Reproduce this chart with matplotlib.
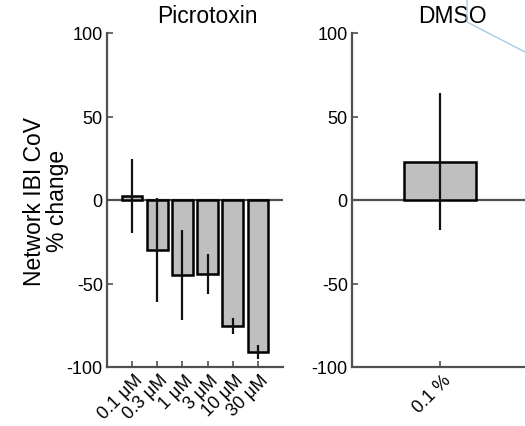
import matplotlib
matplotlib.use("Agg")
import matplotlib.pyplot as plt
import matplotlib.transforms as mtransforms
from matplotlib.lines import Line2D

plt.rcParams['font.family'] = ['Liberation Sans', 'DejaVu Sans']

# Data
picro_labels = ["0.1 μM", "0.3 μM", "1 μM", "3 μM", "10 μM", "30 μM"]
picro_means = [2.5, -30, -45, -44.5, -75.5, -91]
picro_errs = [22, 31, 27, 12, 5, 4]

dmso_labels = ["0.1 %"]
dmso_means = [23]
dmso_errs = [41]

yticks = [-100, -50, 0, 50, 100]

W, H = 525, 427
fig = plt.figure(figsize=(W / 100, H / 100), dpi=100)

spine_col = "#505050"
bar_face = "#bfbfbf"

def style_axes(ax, xlim, positions, labels, title):
    ax.set_xlim(*xlim)
    ax.set_ylim(-100, 100)
    ax.set_yticks(yticks)
    ax.set_yticklabels([str(t) for t in yticks], fontsize=13)
    ax.set_xticks(positions)
    ax.set_xticklabels([])
    trans = mtransforms.blended_transform_factory(ax.transData, ax.transAxes)
    offset = mtransforms.ScaledTranslation(14 / 100, -4 / 100, fig.dpi_scale_trans)
    for p, lab in zip(positions, labels):
        ax.text(p, 0, lab, transform=trans + offset, rotation=45,
                ha='right', va='top', fontsize=13)
    for s in ['top', 'right']:
        ax.spines[s].set_visible(False)
    for s in ['left', 'bottom']:
        ax.spines[s].set_color(spine_col)
        ax.spines[s].set_linewidth(1.6)
    ax.tick_params(direction='in', length=4, width=1.2, color=spine_col, pad=3)
    ax.axhline(0, color=spine_col, lw=1.6, zorder=1)
    ax.set_title(title, fontsize=16.5, x=0.57, pad=8)

# Left axes: Picrotoxin
ax1 = fig.add_axes([107 / W, 1 - 368 / H, 176 / W, 334 / H])
x1 = list(range(1, len(picro_means) + 1))
ax1.bar(x1, picro_means, width=0.82, color=bar_face, edgecolor='black', linewidth=1.8, zorder=2)
ax1.errorbar(x1, picro_means, yerr=picro_errs, fmt='none', ecolor='#111111', elinewidth=1.6, capsize=0, zorder=3)
style_axes(ax1, (0, 7), x1, picro_labels, "Picrotoxin")
ax1.set_ylabel("Network IBI CoV\n% change", fontsize=16.5, labelpad=-2, linespacing=1.05)

# Right axes: DMSO
ax2 = fig.add_axes([352 / W, 1 - 368 / H, 176 / W, 334 / H])
x2 = [1]
ax2.bar(x2, dmso_means, width=0.82, color=bar_face, edgecolor='black', linewidth=1.8, zorder=2)
ax2.errorbar(x2, dmso_means, yerr=dmso_errs, fmt='none', ecolor='#111111', elinewidth=1.6, capsize=0, zorder=3)
style_axes(ax2, (0, 2), x2, dmso_labels, "DMSO")

# stray light-blue annotation line in top-right corner
fig.add_artist(Line2D([467 / W, 467 / W, 525 / W], [1, 1 - 23 / H, 1 - 53 / H],
                      transform=fig.transFigure, color="#a9cbe0", lw=1.0, zorder=10))

fig.savefig("out.png", dpi=100)
